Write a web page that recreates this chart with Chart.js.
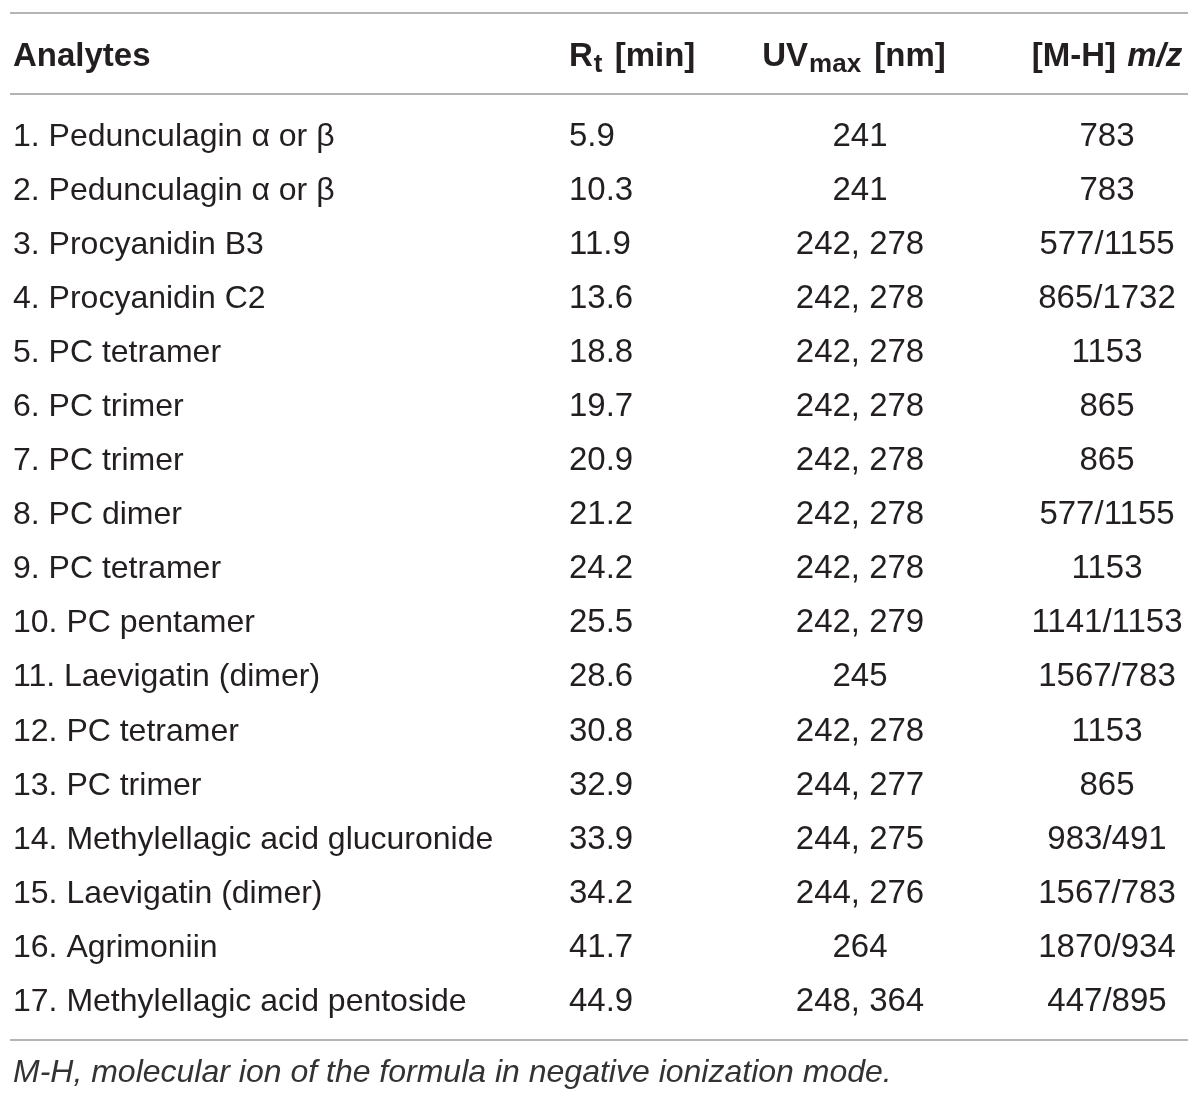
<!DOCTYPE html>
<html>
<head>
<meta charset="utf-8">
<script src="https://cdn.jsdelivr.net/npm/chart.js@4.4.1/dist/chart.umd.min.js"></script>
<style>
  html, body { margin: 0; padding: 0; background: #fff; }
  #wrap { width: 1200px; height: 1102px; position: relative; }
</style>
</head>
<body>
<div id="wrap"><canvas id="table_chart"></canvas></div>
<script>
  var analytes = [
    "1. Pedunculagin \u03b1 or \u03b2",
    "2. Pedunculagin \u03b1 or \u03b2",
    "3. Procyanidin B3",
    "4. Procyanidin C2",
    "5. PC tetramer",
    "6. PC trimer",
    "7. PC trimer",
    "8. PC dimer",
    "9. PC tetramer",
    "10. PC pentamer",
    "11. Laevigatin (dimer)",
    "12. PC tetramer",
    "13. PC trimer",
    "14. Methylellagic acid glucuronide",
    "15. Laevigatin (dimer)",
    "16. Agrimoniin",
    "17. Methylellagic acid pentoside"
  ];
  var retention = [5.9, 10.3, 11.9, 13.6, 18.8, 19.7, 20.9, 21.2, 24.2, 25.5, 28.6, 30.8, 32.9, 33.9, 34.2, 41.7, 44.9];
  var uvMax = ["241", "241", "242, 278", "242, 278", "242, 278", "242, 278", "242, 278", "242, 278",
    "242, 278", "242, 279", "245", "242, 278", "244, 277", "244, 275", "244, 276", "264", "248, 364"];
  var massCharge = ["783", "783", "577/1155", "865/1732", "1153", "865", "865", "577/1155", "1153",
    "1141/1153", "1567/783", "1153", "865", "983/491", "1567/783", "1870/934", "447/895"];
  var footnote = "M-H, molecular ion of the formula in negative ionization mode.";

  var FONT = "'Liberation Sans', Arial, sans-serif";
  var TEXT = "#231f20";
  var RULE = "#b4b4b4";
  var SIZE = 33;

  // column anchors on the x scale (0..1200)
  var colName = 13, colRt = 569, colUv = 860, colMz = 1107;

  function runs(ctx, parts, x, y, align) {
    var total = 0;
    parts.forEach(function (p) {
      ctx.font = p.font;
      total += ctx.measureText(p.text).width + (p.gap || 0);
    });
    var cx = align === "center" ? x - total / 2 : x;
    parts.forEach(function (p) {
      ctx.font = p.font;
      cx += p.gap || 0;
      ctx.fillText(p.text, cx, y + (p.dy || 0));
      cx += ctx.measureText(p.text).width;
    });
  }

  var tablePlugin = {
    id: "tableText",
    afterDraw: function (chart) {
      var ctx = chart.ctx;
      var xs = chart.scales.x;
      var ys = chart.scales.y;
      var top = ys.getPixelForValue(0);
      var bottom = ys.getPixelForValue(analytes.length - 1);
      var left = xs.getPixelForValue(10), right = xs.getPixelForValue(1188);
      var cap = SIZE * 0.358;

      ctx.save();
      ctx.strokeStyle = RULE;
      ctx.lineWidth = 2;
      [top - 121, top - 40, bottom + 41].forEach(function (yy) {
        ctx.beginPath();
        ctx.moveTo(left, yy);
        ctx.lineTo(right, yy);
        ctx.stroke();
      });

      ctx.fillStyle = TEXT;
      ctx.textBaseline = "alphabetic";
      var bold = "bold " + SIZE + "px " + FONT;
      var boldSub = "bold " + Math.round(SIZE * 0.8) + "px " + FONT;
      var hy = top - 80 + cap;
      ctx.textAlign = "left";
      runs(ctx, [{ text: "Analytes", font: bold }], xs.getPixelForValue(colName), hy, "left");
      runs(ctx, [
        { text: "R", font: bold },
        { text: "t", font: boldSub, dy: 6, gap: 1 },
        { text: " [min]", font: bold, gap: 3 }
      ], xs.getPixelForValue(colRt), hy, "left");
      runs(ctx, [
        { text: "UV", font: bold },
        { text: "max", font: boldSub, dy: 6, gap: 1 },
        { text: " [nm]", font: bold, gap: 4 }
      ], xs.getPixelForValue(854), hy, "center");
      runs(ctx, [
        { text: "[M-H] ", font: bold },
        { text: "m/z", font: "italic " + bold, gap: 2 }
      ], xs.getPixelForValue(colMz), hy, "center");

      var nameFont = (SIZE - 1) + "px " + FONT;
      var numFont = SIZE + "px " + FONT;
      analytes.forEach(function (name, i) {
        var yy = ys.getPixelForValue(i) + cap;
        ctx.textAlign = "left";
        ctx.font = nameFont;
        ctx.fillText(name, xs.getPixelForValue(colName), yy);
        ctx.font = numFont;
        ctx.fillText(retention[i].toFixed(1), xs.getPixelForValue(colRt), yy);
        ctx.textAlign = "center";
        ctx.fillText(uvMax[i], xs.getPixelForValue(colUv), yy);
        ctx.fillText(massCharge[i], xs.getPixelForValue(colMz), yy);
      });

      ctx.textAlign = "left";
      ctx.font = "italic 32px " + FONT;
      ctx.fillStyle = "#333";
      ctx.fillText(footnote, xs.getPixelForValue(colName), bottom + 72 + 32 * 0.358, 880);
      ctx.restore();
    }
  };

  new Chart(document.getElementById("table_chart"), {
    type: "scatter",
    data: {
      datasets: [{
        data: analytes.map(function (name, i) { return { x: retention[i], y: name }; }),
        pointRadius: 0,
        showLine: false
      }]
    },
    options: {
      responsive: true,
      maintainAspectRatio: false,
      animation: false,
      events: [],
      layout: { padding: { top: 134, bottom: 103, left: 0, right: 0 } },
      plugins: { legend: { display: false }, tooltip: { enabled: false } },
      scales: {
        x: { type: "linear", min: 0, max: 1200, display: false },
        y: { type: "category", labels: analytes, offset: false, display: false }
      }
    },
    plugins: [tablePlugin]
  });
</script>
</body>
</html>
